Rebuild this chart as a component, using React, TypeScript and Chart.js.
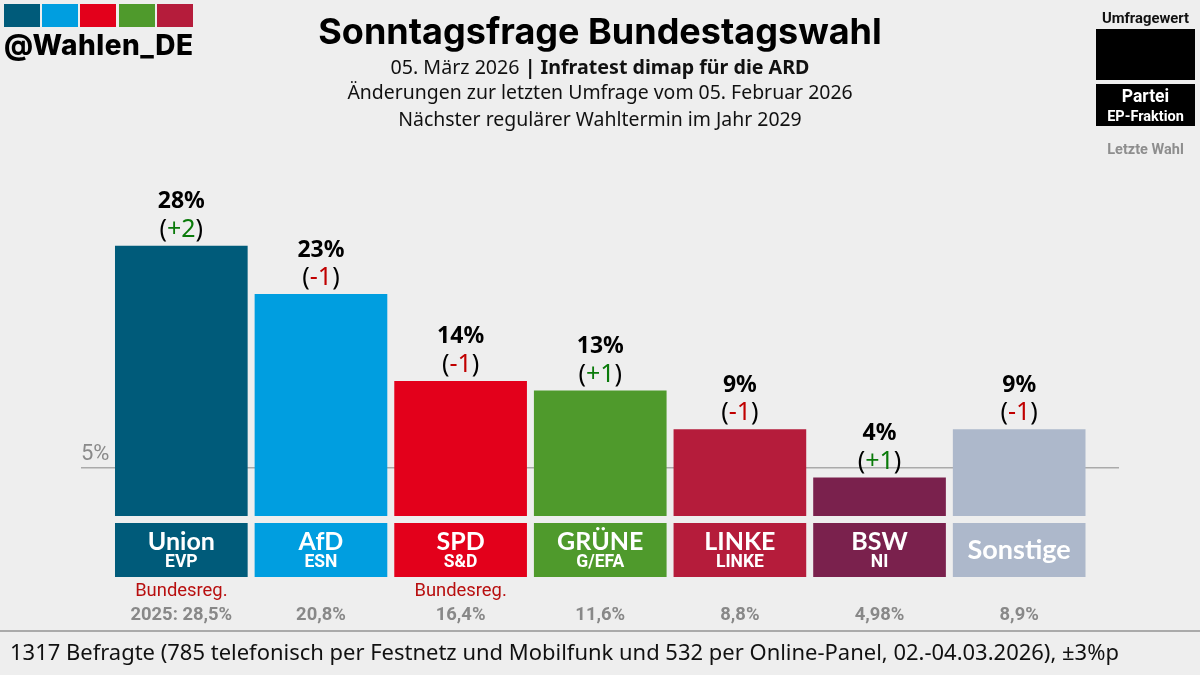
import { useEffect, useRef } from 'react';
import Chart from 'chart.js/auto';

const parties = ['Union', 'AfD', 'SPD', 'GRÜNE', 'LINKE', 'BSW', 'Sonstige'];
const factions = ['EVP', 'ESN', 'S&D', 'G/EFA', 'LINKE', 'NI', ''];
const values = [28, 23, 14, 13, 9, 4, 9];
const changes = ['+2', '-1', '-1', '+1', '-1', '+1', '-1'];
const lastElection = ['2025: 28,5%', '20,8%', '16,4%', '11,6%', '8,8%', '4,98%', '8,9%'];
const government = ['Bundesreg.', '', 'Bundesreg.', '', '', '', ''];
const colors = ['#005b7a', '#009ee0', '#e3001b', '#4f9a2c', '#b51c3b', '#7a214d', '#adb8cb'];
const logoColors = ['#005b7a', '#009ee0', '#e3001b', '#4f9a2c', '#b51c3b'];
const thresholdValue = 5;

const BG = '#eeeeee';

// 5%-Linie hinter den Balken
const thresholdLine = {
  id: 'thresholdLine',
  beforeDatasetsDraw(chart: Chart) {
    const { ctx, scales } = chart;
    const y = scales.y.getPixelForValue(thresholdValue);
    ctx.save();
    ctx.strokeStyle = '#aaaaaa';
    ctx.lineWidth = 1.5;
    ctx.beginPath();
    ctx.moveTo(81, y);
    ctx.lineTo(1119, y);
    ctx.stroke();
    ctx.fillStyle = '#8a8a8a';
    ctx.font = '22px Roboto';
    ctx.textAlign = 'left';
    ctx.textBaseline = 'middle';
    ctx.fillText(thresholdValue + '%', 81, y - 13);
    ctx.restore();
  },
};

// Werte über den Balken, Parteikästen und letzte Wahl darunter
const barLabels = {
  id: 'barLabels',
  afterDatasetsDraw(chart: Chart) {
    const { ctx, scales } = chart;
    const bars = chart.getDatasetMeta(0).data as any[];
    const base = scales.y.getPixelForValue(0);
    ctx.save();
    ctx.textAlign = 'center';
    ctx.textBaseline = 'middle';
    bars.forEach((bar, i) => {
      const x = bar.x;
      const w = bar.width;
      ctx.fillStyle = '#000000';
      ctx.font = 'bold 23px "Noto Sans"';
      ctx.fillText(values[i] + '%', x, bar.y - 44);

      // Änderung: Klammern schwarz, Zahl farbig
      ctx.font = '25px "Noto Sans"';
      const change = changes[i];
      const open = ctx.measureText('(').width;
      const mid = ctx.measureText(change).width;
      const close = ctx.measureText(')').width;
      const left = x - (open + mid + close) / 2;
      ctx.textAlign = 'left';
      ctx.fillText('(', left, bar.y - 16);
      ctx.fillStyle = change[0] === '+' ? '#0a7a0a' : '#c00000';
      ctx.fillText(change, left + open, bar.y - 16);
      ctx.fillStyle = '#000000';
      ctx.fillText(')', left + open + mid, bar.y - 16);
      ctx.textAlign = 'center';

      ctx.fillStyle = colors[i];
      ctx.fillRect(x - w / 2, base + 7, w, 54);

      ctx.fillStyle = '#ffffff';
      if (factions[i]) {
        ctx.font = 'bold 25px Lato';
        ctx.fillText(parties[i], x, base + 26);
        ctx.font = 'bold 17.5px Roboto';
        ctx.fillText(factions[i], x, base + 47);
      } else {
        ctx.font = 'bold 27px Lato';
        ctx.fillText(parties[i], x, base + 34);
      }

      if (government[i]) {
        ctx.fillStyle = '#b80f0f';
        ctx.font = '18.4px Roboto';
        ctx.fillText(government[i], x, base + 75);
      }
      ctx.fillStyle = '#888888';
      ctx.font = 'bold 18.4px Roboto';
      ctx.fillText(lastElection[i], x, base + 99);
    });
    ctx.restore();
  },
};

export default function App() {
  const chartRef = useRef<HTMLCanvasElement>(null);

  useEffect(() => {
    if (!chartRef.current) return;
    const chart = new Chart(chartRef.current, {
      type: 'bar',
      data: {
        labels: parties,
        datasets: [
          {
            data: values,
            backgroundColor: colors,
            categoryPercentage: 1,
            barPercentage: 0.95,
          },
        ],
      },
      options: {
        responsive: false,
        animation: false,
        devicePixelRatio: 1,
        layout: { padding: { left: 111.5, right: 111, top: 130, bottom: 159 } },
        plugins: { legend: { display: false }, tooltip: { enabled: false } },
        scales: {
          x: { display: false },
          y: { display: false, min: 0, max: 40 },
        },
      },
      plugins: [thresholdLine, barLabels],
    });
    return () => chart.destroy();
  }, []);

  const center: React.CSSProperties = {
    position: 'absolute',
    left: 0,
    width: 1200,
    textAlign: 'center',
    fontFamily: '"Noto Sans"',
    fontSize: 19.45,
    lineHeight: '28px',
    color: '#111',
    whiteSpace: 'nowrap',
  };

  return (
    <div style={{ position: 'absolute', left: 0, top: 0, width: 1200, height: 675, background: BG, overflow: 'hidden' }}>
      <canvas ref={chartRef} width={1200} height={675} style={{ position: 'absolute', left: 0, top: 0, display: 'block' }} />

      {logoColors.map((c, i) => (
        <div key={c} style={{ position: 'absolute', left: [4, 42, 80, 119, 157][i], top: 4, width: 36, height: 23, background: c }} />
      ))}
      <div style={{ position: 'absolute', left: 4, top: 28, fontFamily: 'Inter', fontWeight: 800, fontSize: 28, letterSpacing: 0.5, lineHeight: '34px', color: '#000', whiteSpace: 'nowrap' }}>
        @Wahlen_DE
      </div>

      <div style={{ ...center, top: 8, fontFamily: 'Inter', fontWeight: 700, fontSize: 36, lineHeight: '46px', color: '#000' }}>
        Sonntagsfrage Bundestagswahl
      </div>
      <div style={{ ...center, top: 53, fontSize: 19.65 }}>
        05. März 2026 <b>| Infratest dimap für die ARD</b>
      </div>
      <div style={{ ...center, top: 78 }}>Änderungen zur letzten Umfrage vom 05. Februar 2026</div>
      <div style={{ ...center, top: 105 }}>Nächster regulärer Wahltermin im Jahr 2029</div>

      <div style={{ position: 'absolute', left: 1096, top: 9, width: 99, textAlign: 'center', fontFamily: 'Roboto', fontWeight: 700, fontSize: 14.8, lineHeight: '18px', color: '#111', whiteSpace: 'nowrap' }}>
        Umfragewert
      </div>
      <div style={{ position: 'absolute', left: 1096, top: 29, width: 99, height: 51, background: '#000' }} />
      <div style={{ position: 'absolute', left: 1096, top: 84, width: 99, height: 42, background: '#000', color: '#fff', textAlign: 'center', fontFamily: 'Roboto', fontWeight: 700, whiteSpace: 'nowrap' }}>
        <div style={{ fontSize: 17.5, lineHeight: '22px', paddingTop: 1 }}>Partei</div>
        <div style={{ fontSize: 14.5, lineHeight: '19px' }}>EP-Fraktion</div>
      </div>
      <div style={{ position: 'absolute', left: 1096, top: 141, width: 99, textAlign: 'center', fontFamily: 'Roboto', fontWeight: 700, fontSize: 14.5, lineHeight: '18px', color: '#8e8e8e', whiteSpace: 'nowrap' }}>
        Letzte Wahl
      </div>

      <div style={{ position: 'absolute', left: 0, top: 630, width: 1200, height: 2, background: '#aaaaaa' }} />
      <div style={{ position: 'absolute', left: 10, top: 637, fontFamily: '"Noto Sans"', fontSize: 21.97, lineHeight: '30px', color: '#111', whiteSpace: 'nowrap' }}>
        1317 Befragte (785 telefonisch per Festnetz und Mobilfunk und 532 per Online-Panel, 02.-04.03.2026), ±3%p
      </div>
    </div>
  );
}
